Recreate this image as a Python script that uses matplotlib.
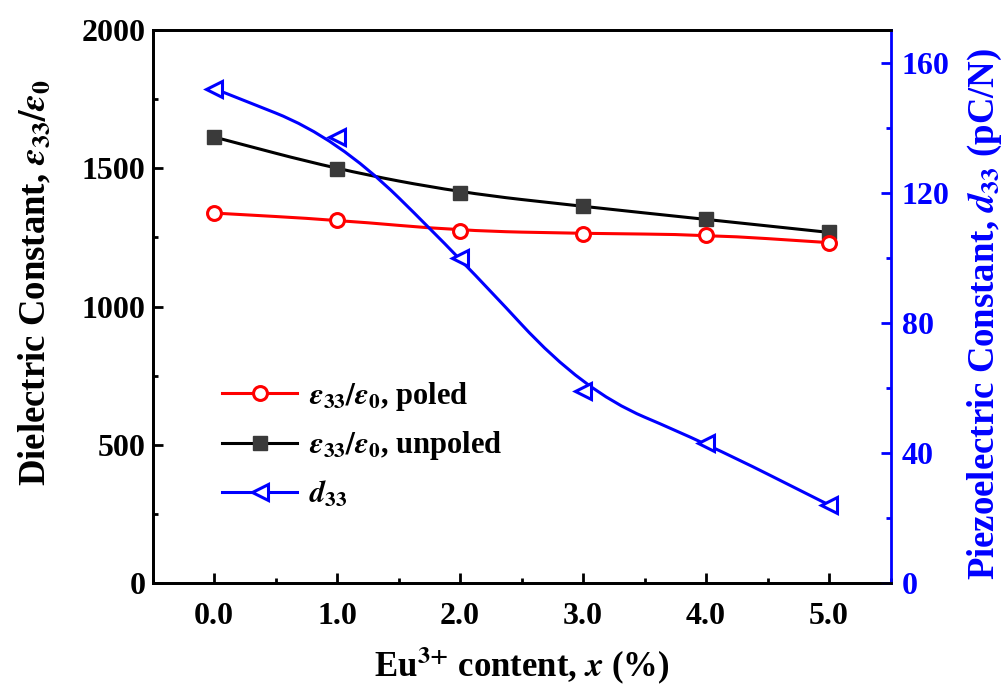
import matplotlib
matplotlib.use("Agg")
import matplotlib.pyplot as plt
from matplotlib.path import Path
from matplotlib.patches import PathPatch
from matplotlib.lines import Line2D
from matplotlib.ticker import MultipleLocator, FormatStrFormatter
import numpy as np

plt.rcParams['font.family'] = ['Liberation Serif', 'DejaVu Serif']
plt.rcParams['font.weight'] = 'bold'
plt.rcParams['mathtext.fontset'] = 'stix'

x_content = [0.0, 1.0, 2.0, 3.0, 4.0, 5.0]
eps_poled = [1338, 1313, 1274, 1264, 1260, 1231]
eps_unpoled = [1613, 1496, 1412, 1362, 1315, 1268]
d33 = [152, 137, 100, 59, 43, 24]

RED = '#ff0000'
BLUE = '#0000ff'
BLACK = '#000000'


def spline_path(xs, ys):
    # quadratic B-spline style smoothing: passes through end points and midpoints
    xs = np.asarray(xs, float)
    ys = np.asarray(ys, float)
    verts = [(xs[0], ys[0])]
    codes = [Path.MOVETO]
    mx = (xs[:-1] + xs[1:]) / 2
    my = (ys[:-1] + ys[1:]) / 2
    verts.append((mx[0], my[0]))
    codes.append(Path.LINETO)
    for i in range(1, len(xs) - 1):
        verts += [(xs[i], ys[i]), (mx[i], my[i])]
        codes += [Path.CURVE3, Path.CURVE3]
    verts.append((xs[-1], ys[-1]))
    codes.append(Path.LINETO)
    return Path(verts, codes)


fig = plt.figure(figsize=(10.06, 6.91), dpi=100)
ax = fig.add_axes([152.5 / 1006, 1 - 583 / 691, (890.5 - 152.5) / 1006, (583 - 30) / 691])
ax2 = ax.twinx()

lw = 2.2
ax.add_patch(PathPatch(spline_path(x_content, eps_unpoled), fill=False, edgecolor=BLACK, lw=lw, zorder=2))
ax.plot(x_content, eps_unpoled, ls='none', marker='s', ms=9.5, mfc='#3a3a3a', mec='#3a3a3a', zorder=3)
ax.add_patch(PathPatch(spline_path(x_content, eps_poled), fill=False, edgecolor=RED, lw=lw, zorder=2))
ax.plot(x_content, eps_poled, ls='none', marker='o', ms=10, mfc='white', mec=RED, mew=2.2, zorder=3)

ax2.add_patch(PathPatch(spline_path(x_content, d33), fill=False, edgecolor=BLUE, lw=lw, zorder=2))
ax2.plot(x_content, d33, ls='none', marker='<', ms=12, mfc='white', mec=BLUE, mew=2.2, zorder=3)

ax.set_xlim(-0.5, 5.5)
ax.set_ylim(0, 2000)
ax2.set_ylim(0, 170)

ax.xaxis.set_major_locator(MultipleLocator(1.0))
ax.xaxis.set_minor_locator(MultipleLocator(0.5))
ax.xaxis.set_major_formatter(FormatStrFormatter('%.1f'))
ax.yaxis.set_major_locator(MultipleLocator(500))
ax.yaxis.set_minor_locator(MultipleLocator(250))
ax2.yaxis.set_major_locator(MultipleLocator(40))
ax2.yaxis.set_minor_locator(MultipleLocator(20))

ax.tick_params(axis='both', which='major', direction='in', length=7, width=2, labelsize=23)
ax.tick_params(axis='x', which='major', pad=14)
ax.tick_params(axis='y', which='major', pad=5)
ax.tick_params(axis='both', which='minor', direction='in', length=3.5, width=2)
ax.tick_params(axis='y', which='both', right=False)
ax.tick_params(axis='x', which='both', top=False)
ax2.tick_params(axis='y', which='major', direction='in', length=7, width=2, labelsize=23,
                colors=BLUE, pad=8)
ax2.tick_params(axis='y', which='minor', direction='in', length=3.5, width=2, colors=BLUE)

for s in ['left', 'top', 'bottom']:
    ax.spines[s].set_linewidth(2)
    ax2.spines[s].set_linewidth(2)
ax2.spines['right'].set_color(BLUE)
ax2.spines['right'].set_linewidth(2)
ax.spines['right'].set_visible(False)

for lab in ax.get_xticklabels() + ax.get_yticklabels() + ax2.get_yticklabels():
    lab.set_fontweight('bold')

ax.set_xlabel(r'Eu$^{\mathbf{3{+}}}$ content, $x$ (%)', fontsize=25, fontweight='bold', va='center')
ax.xaxis.set_label_coords(0.5, -0.148)
ax.set_ylabel(r'Dielectric Constant, $\varepsilon_{33}/\varepsilon_0$', fontsize=26.5, fontweight='bold',
              va='center')
ax.yaxis.set_label_coords(-0.159, 0.544)
ax2.set_ylabel(r'Piezoelectric Constant, $d_{33}$ (pC/N)', fontsize=26.5, fontweight='bold',
               color=BLUE, va='center')
ax2.yaxis.set_label_coords(1.128, 0.487)

handles = [
    Line2D([], [], color=RED, lw=lw, marker='o', ms=10, mfc='white', mec=RED, mew=2.2),
    Line2D([], [], color=BLACK, lw=lw, marker='s', ms=9.5, mfc='#3a3a3a', mec='#3a3a3a'),
    Line2D([], [], color=BLUE, lw=lw, marker='<', ms=12, mfc='white', mec=BLUE, mew=2.2),
]
labels = [r'$\varepsilon_{33}/\varepsilon_0$, poled',
          r'$\varepsilon_{33}/\varepsilon_0$, unpoled',
          r'$d_{33}$']
leg = ax.legend(handles, labels, loc='upper left', bbox_to_anchor=(0.078, 0.39),
                frameon=False, fontsize=22, handlelength=2.45, handletextpad=0.4,
                labelspacing=0.55, borderaxespad=0)
for t in leg.get_texts():
    t.set_fontweight('bold')

fig.savefig('out.png', dpi=100)
